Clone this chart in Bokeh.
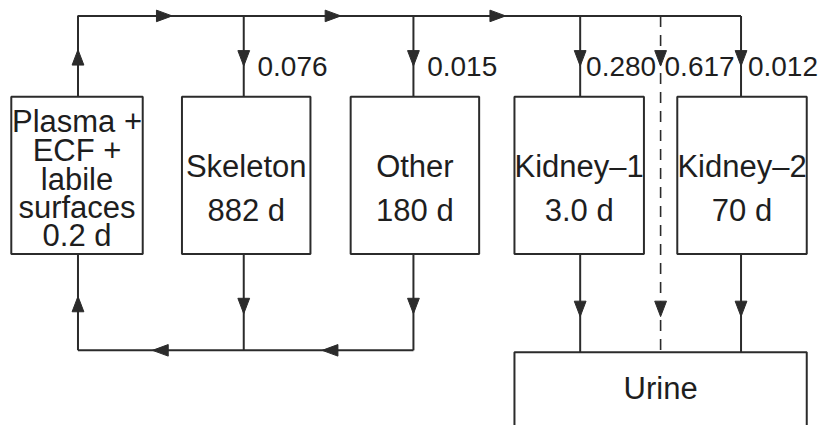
from bokeh.plotting import figure
from bokeh.models import Range1d
from bokeh.embed import file_html
from bokeh.resources import INLINE
from bokeh.core.properties import value

# ---- data ----
compartments = [["Plasma +", "ECF +", "labile", "surfaces"], ["Skeleton"], ["Other"], ["Kidney\u20131"], ["Kidney\u20132"]]
half_lives = ["0.2 d", "882 d", "180 d", "3.0 d", "70 d"]
fractions = [0.076, 0.015, 0.280, 0.617, 0.012]
sink = "Urine"

# ---- layout (reference pixels) ----
box_left = [11, 185, 357, 524, 690]
box_right = [145, 316, 488, 656, 822]
box_top, box_bottom = 100, 263
stem_x = [79, 248, 421, 591, 755]
flow_x = [248, 421, 591, 673, 755]
label_dx = [14, 14, 6, 4, 7]
dash_x = 673
top_y, ret_y = 16, 363
urine_box = (524, 822, 365, 470)
label_rows = {1: [172, 218], 5: [126, 156, 186, 215, 244]}

INK = "#2b2b2b"
FONT = "Liberation Sans"

p = figure(width=819, height=425, output_backend="svg", toolbar_location=None,
           x_range=Range1d(0, 835), y_range=Range1d(441, 0), min_border=0)
p.axis.visible = False
p.grid.visible = False
p.outline_line_color = None
p.background_fill_color = "white"
p.border_fill_color = "white"

# boxes
p.quad(left=box_left, right=box_right, top=[box_top] * 5, bottom=[box_bottom] * 5,
       fill_color="white", line_color=INK, line_width=2)
p.quad(left=[urine_box[0]], right=[urine_box[1]], top=[urine_box[2]], bottom=[urine_box[3]],
       fill_color="white", line_color=INK, line_width=2)

# solid connectors
xs, ys = [], []
xs.append([stem_x[0], stem_x[0], stem_x[-1]]); ys.append([box_top, top_y, top_y])
for x in stem_x[1:]:
    xs.append([x, x]); ys.append([top_y, box_top])
for x in stem_x[:3]:
    xs.append([x, x]); ys.append([box_bottom, ret_y])
xs.append([stem_x[0], stem_x[2]]); ys.append([ret_y, ret_y])
for x in stem_x[3:]:
    xs.append([x, x]); ys.append([box_bottom, urine_box[2]])
p.multi_line(xs=xs, ys=ys, line_color=INK, line_width=2)

# dashed path
p.line(x=[dash_x, dash_x], y=[top_y, urine_box[2]], line_color=INK, line_width=1.6, line_dash="11 8")

# arrowheads
def tri(x, y, d, L=16, W=6):
    if d == "down":
        return [x - W, x + W, x], [y - L, y - L, y]
    if d == "up":
        return [x - W, x + W, x], [y + L, y + L, y]
    if d == "right":
        return [x - L, x - L, x], [y - W, y + W, y]
    return [x + L, x + L, x], [y - W, y + W, y]

arrows = [(stem_x[0], 51, "up"), (175, top_y, "right"), (347, top_y, "right"), (515, top_y, "right")]
arrows += [(x, 68, "down") for x in flow_x]
arrows += [(stem_x[0], 307, "up"), (stem_x[1], 325, "down"), (stem_x[2], 325, "down"),
           (155, ret_y, "left"), (328, ret_y, "left")]
arrows += [(x, 328, "down") for x in (stem_x[3], dash_x, stem_x[4])]
axs, ays = [], []
for (x, y, d) in arrows:
    a, b = tri(x, y, d)
    axs.append(a); ays.append(b)
p.patches(xs=axs, ys=ays, fill_color=INK, line_color=INK, line_width=1)

# box labels
tx, ty, tt = [], [], []
for i, lines in enumerate(compartments):
    allrows = lines + [half_lives[i]]
    rows = label_rows.get(len(allrows), label_rows[1])
    cx = (box_left[i] + box_right[i]) / 2
    for r, s in zip(rows, allrows):
        tx.append(cx); ty.append(r); tt.append(s)
p.text(x=tx, y=ty, text=tt, text_font=value(FONT), text_font_size="31px",
       text_align="center", text_baseline="middle", text_color="#1e1e1e")

# fraction labels
p.text(x=[fx + dx for fx, dx in zip(flow_x, label_dx)], y=[68] * len(fractions),
       text=[f"{v:.3f}" for v in fractions], text_font=value(FONT), text_font_size="28px",
       text_align="left", text_baseline="middle", text_color="#1e1e1e")

# sink label
p.text(x=[(urine_box[0] + urine_box[1]) / 2], y=[403], text=[sink], text_font=value(FONT),
       text_font_size="31px", text_align="center", text_baseline="middle", text_color="#1e1e1e")

open("out.html", "w").write(file_html(p, INLINE))
